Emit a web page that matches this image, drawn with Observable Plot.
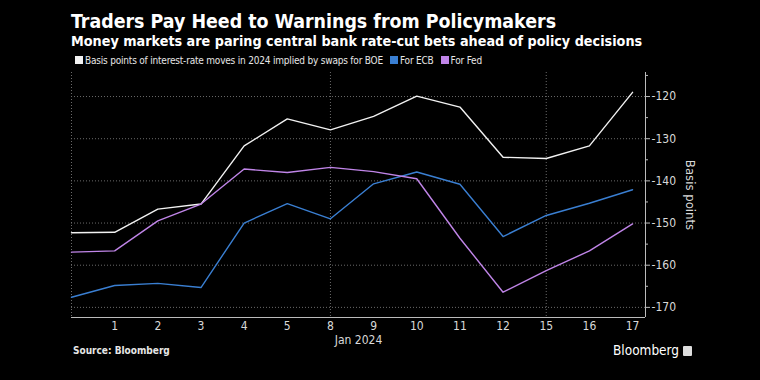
<!DOCTYPE html>
<html>
<head>
<meta charset="utf-8">
<script src="https://cdn.jsdelivr.net/npm/d3@7"></script>
<script src="https://cdn.jsdelivr.net/npm/@observablehq/plot@0.6"></script>
<style>
  html, body { margin: 0; padding: 0; background: #000; }
  body { width: 760px; height: 380px; position: relative; overflow: hidden; font-family: "DejaVu Sans Condensed", "DejaVu Sans", sans-serif; color: #fff; }
  #title { position: absolute; left: 71px; top: 10px; font-size: 19.4px; font-weight: bold; white-space: nowrap; }
  #subtitle { position: absolute; left: 71px; top: 33px; font-size: 14.25px; font-weight: bold; white-space: nowrap; }
  #legend { position: absolute; left: 75px; top: 55px; font-size: 10px; letter-spacing: -0.2px; color: #e6e6e6; white-space: nowrap; }
  #legend span.item { margin-right: 7px; }
  #legend span.sw { display: inline-block; width: 8px; height: 8px; margin-right: 2px; }
  #chart { position: absolute; left: 0; top: 60px; }
  #ylabel { position: absolute; left: 690px; top: 195px; font-size: 13px; color: #d9d9d9; white-space: nowrap; transform: translate(-50%, -50%) rotate(90deg); }
  #source { position: absolute; left: 73px; top: 345px; font-size: 10px; font-weight: bold; color: #e6e6e6; }
  #logo { position: absolute; left: 613px; top: 342px; font-size: 13.5px; color: #fff; font-family: "DejaVu Sans Condensed", sans-serif; }
  #logo span { display: inline-block; width: 9px; height: 10px; background: #ddd; border-radius: 1px; margin-left: 4px; vertical-align: -1px; }
</style>
</head>
<body>
<div id="title">Traders Pay Heed to Warnings from Policymakers</div>
<div id="subtitle">Money markets are paring central bank rate-cut bets ahead of policy decisions</div>
<div id="legend"></div>
<div id="chart"></div>
<div id="ylabel">Basis points</div>
<div id="source">Source: Bloomberg</div>
<div id="logo">Bloomberg<span></span></div>
<script>
// Data (trading days, Dec 29 2023 – Jan 17 2024)
const dates = ["Dec 29", "Jan 1", "Jan 2", "Jan 3", "Jan 4", "Jan 5", "Jan 8", "Jan 9", "Jan 10", "Jan 11", "Jan 12", "Jan 15", "Jan 16", "Jan 17"];
const tickLabels = ["", "1", "2", "3", "4", "5", "8", "9", "10", "11", "12", "15", "16", "17"];
const boe = [-152.3, -152.2, -146.7, -145.5, -131.7, -125.3, -127.9, -124.7, -119.9, -122.5, -134.4, -134.7, -131.7, -119.0];
const ecb = [-167.6, -164.8, -164.3, -165.3, -150.0, -145.4, -149.0, -140.7, -137.9, -140.8, -153.2, -148.2, -145.3, -142.1];
const fed = [-156.9, -156.6, -149.5, -145.5, -137.2, -138.0, -136.8, -137.8, -139.5, -153.6, -166.4, -161.3, -156.6, -150.2];
const seriesNames = ["Basis points of interest-rate moves in 2024 implied by swaps for BOE", "For ECB", "For Fed"];
const seriesColors = ["#f2f2f2", "#3a7fd2", "#c085e8"];
const yTicks = [-120, -130, -140, -150, -160, -170];
const yMinorTicks = [-115, -125, -135, -145, -155, -165];
const weekStarts = [0, 6, 11];
const xDomain = [0, 13.3];
const yDomain = [-172.4, -114.3];

const legend = document.getElementById("legend");
seriesNames.forEach((n, i) => {
  const s = document.createElement("span");
  s.className = "item";
  s.innerHTML = `<span class="sw" style="background:${seriesColors[i]}"></span>${n}`;
  legend.appendChild(s);
});

const rows = [];
[boe, ecb, fed].forEach((arr, k) => arr.forEach((v, i) => rows.push({i, date: dates[i], v, s: seriesNames[k]})));

const chart = Plot.plot({
  width: 760,
  height: 290,
  marginLeft: 71,
  marginRight: 115,
  marginTop: 12,
  marginBottom: 33,
  style: {background: "transparent", color: "#d9d9d9", fontFamily: "'DejaVu Sans Condensed', 'DejaVu Sans', sans-serif", fontSize: "12px"},
  x: {domain: xDomain},
  y: {domain: yDomain},
  color: {domain: seriesNames, range: seriesColors},
  marks: [
    Plot.ruleY(yTicks, {stroke: "#6a6a6a", strokeDasharray: "1,2"}),
    Plot.ruleX(weekStarts, {stroke: "#6a6a6a", strokeDasharray: "1,2"}),
    Plot.ruleX([xDomain[1]], {stroke: "#bbb", strokeWidth: 1}),
    Plot.ruleY([yDomain[0]], {stroke: "#bbb", strokeWidth: 1}),
    Plot.axisX({ticks: d3.range(1, tickLabels.length), tickFormat: i => tickLabels[i], tickSize: 0, tickPadding: 4, label: "Jan 2024", labelAnchor: "center", labelOffset: 26, labelArrow: "none", fontSize: 12}),
    Plot.axisY({anchor: "right", ticks: yTicks, tickFormat: d => String(d), tickSize: 4, tickPadding: 2, label: null, fontSize: 12, stroke: "#bbb"}),
    Plot.axisY({anchor: "right", ticks: yMinorTicks, tickFormat: () => "", tickSize: 2, label: null, stroke: "#bbb"}),
    Plot.lineY(rows, {x: "i", y: "v", z: "s", stroke: "s", strokeWidth: 1.4})
  ]
});
document.getElementById("chart").appendChild(chart);
</script>
</body>
</html>
